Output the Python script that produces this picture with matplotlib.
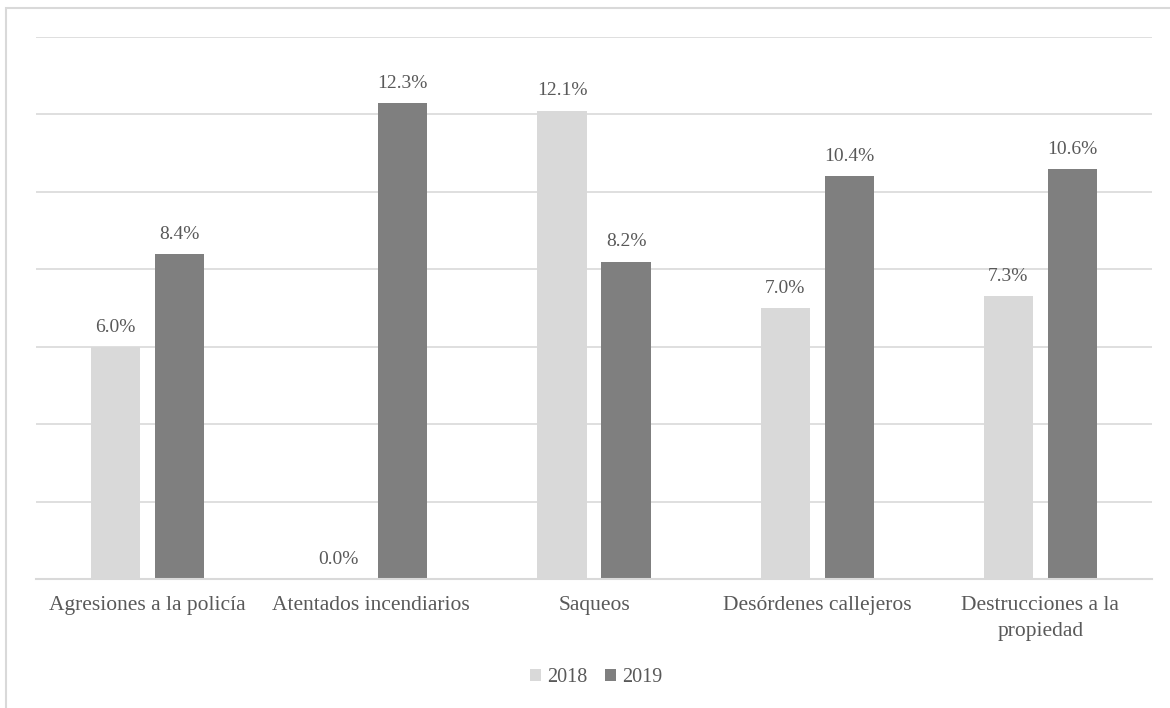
import matplotlib.pyplot as plt
import numpy as np
from matplotlib.patches import Rectangle

categories = ['Agresiones a la policía', 'Atentados incendiarios', 'Saqueos',
              'Desórdenes callejeros', 'Destrucciones a la\npropiedad']
values_2018 = [6.0, 0.0, 12.1, 7.0, 7.3]
values_2019 = [8.4, 12.3, 8.2, 10.4, 10.6]

TEXT = '#595959'
GRID = '#d9d9d9'
C2018 = '#d9d9d9'
C2019 = '#7f7f7f'

plt.rcParams['font.family'] = ['Liberation Serif', 'DejaVu Serif']

fig = plt.figure(figsize=(11.7, 7.08), dpi=100)
W, H = 1170, 708
ax = fig.add_axes([36 / W, 1 - 579 / H, (1152 - 36) / W, (579 - 37) / H])

# light frame around the chart, cut off at right and bottom
fig.patches.append(Rectangle((6 / W, -0.1), 1.2, 1 - 8 / H + 0.1, transform=fig.transFigure,
                             fill=False, edgecolor=GRID, linewidth=1.5))

x = np.arange(len(categories))
width = 0.22
offset = 0.1434
b1 = ax.bar(x - offset, values_2018, width, color=C2018, label='2018', zorder=3)
b2 = ax.bar(x + offset, values_2019, width, color=C2019, label='2019', zorder=3)

for bars in (b1, b2):
    for rect in bars:
        h = rect.get_height()
        ax.annotate('{:.1f}%'.format(h), (rect.get_x() + rect.get_width() / 2, h),
                    xytext=(0, 8), textcoords='offset points', ha='center', va='bottom',
                    color=TEXT, fontsize=14)

ax.set_xlim(-0.5, len(categories) - 0.5)
ax.set_ylim(0, 14)
ax.set_yticks(np.arange(0, 15, 2))
ax.yaxis.grid(True, color=GRID, linewidth=1.2, zorder=0)
ax.set_yticklabels([])
ax.tick_params(axis='y', length=0)
ax.tick_params(axis='x', length=0, pad=12.5, labelsize=15.5, labelcolor=TEXT)
ax.set_xticks(x)
ax.set_xticklabels(categories, linespacing=1.45)
for side in ('top', 'right', 'left'):
    ax.spines[side].set_visible(False)
ax.spines['bottom'].set_color(GRID)
ax.spines['bottom'].set_linewidth(1.5)
ax.spines['bottom'].set_zorder(4)

fig.legend(handles=[b1, b2], loc='center', bbox_to_anchor=(596 / W, 1 - 678 / H), ncol=2,
           frameon=False, fontsize=14.5, labelcolor=TEXT, handlelength=0.55, handleheight=0.55,
           handletextpad=0.3, columnspacing=0.9)

fig.savefig('out.png', dpi=100, facecolor='white')
